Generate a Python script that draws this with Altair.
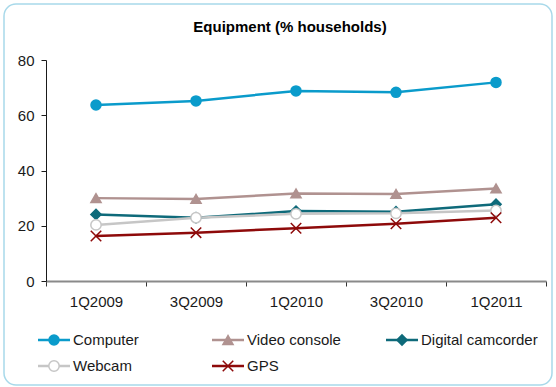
import altair as alt
import pandas as pd

quarters = ["1Q2009", "3Q2009", "1Q2010", "3Q2010", "1Q2011"]
series = ["Computer", "Video console", "Digital camcorder", "Webcam", "GPS"]
computer = [63.7, 65.2, 68.8, 68.3, 71.9]
video_console = [30.0, 29.7, 31.7, 31.5, 33.5]
digital_camcorder = [24.1, 22.9, 25.3, 25.1, 27.8]
webcam = [20.3, 22.9, 24.3, 24.5, 25.5]
gps = [16.3, 17.5, 19.1, 20.7, 22.9]

line_colors = ["#0A9BCB", "#B09290", "#0E6A7A", "#C6C6C6", "#8E0A0A"]
fill_colors = ["#0A9BCB", "#B09290", "#0E6A7A", "#FFFFFF", "transparent"]
x_path = "M-1,-1L1,1M-1,1L1,-1"
point_shapes = ["circle", "triangle-up", "diamond", "circle", x_path]
point_sizes = [100, 110, 80, 90, 70]

rows = []
for name, vals in zip(series, [computer, video_console, digital_camcorder, webcam, gps]):
    for q, v in zip(quarters, vals):
        rows.append({"Quarter": q, "Series": name, "Value": v})
df = pd.DataFrame(rows)

# legend table: 3 columns, entries in series order
legend_df = pd.DataFrame(
    [{"Series": s, "col": i % 3, "row": i // 3} for i, s in enumerate(series)]
)

FONT = "Liberation Sans"
TXT = "#1A1A1A"

color_enc = alt.Color("Series:N", sort=series,
                      scale=alt.Scale(domain=series, range=line_colors), legend=None)
fill_enc = alt.Fill("Series:N", sort=series,
                    scale=alt.Scale(domain=series, range=fill_colors), legend=None)
shape_enc = alt.Shape("Series:N", sort=series,
                      scale=alt.Scale(domain=series, range=point_shapes), legend=None)
size_enc = alt.Size("Series:N", sort=series,
                    scale=alt.Scale(domain=series, range=point_sizes), legend=None)

x_enc = alt.X(
    "Quarter:N",
    sort=quarters,
    scale=alt.Scale(type="band", paddingInner=0, paddingOuter=0),
    axis=alt.Axis(
        title=None,
        labelAngle=0,
        tickBand="extent",
        tickSize=5,
        tickColor="#333333",
        domainColor="#8A8A8A",
        domainWidth=2,
        labelPadding=8,
        labelFont=FONT,
        labelFontSize=15,
        labelColor=TXT,
        grid=False,
    ),
)
y_enc = alt.Y(
    "Value:Q",
    scale=alt.Scale(domain=[0, 80]),
    axis=alt.Axis(
        title=None,
        values=[0, 20, 40, 60, 80],
        tickSize=5,
        tickColor=TXT,
        domainColor=TXT,
        labelPadding=7,
        labelFont=FONT,
        labelFontSize=15,
        labelColor=TXT,
        grid=False,
    ),
)

lines = alt.Chart(df).mark_line(strokeWidth=2.5).encode(
    x=x_enc, y=y_enc, color=color_enc, detail="Series:N",
)

points = alt.Chart(df).mark_point(opacity=1, strokeWidth=1.5, filled=False).encode(
    x=x_enc, y=y_enc, color=color_enc, fill=fill_enc, shape=shape_enc, size=size_enc,
)

plot = alt.layer(lines, points)

# custom legend, positioned through its own scales
lx = alt.X("col:Q", scale=alt.Scale(domain=[0, 2], range=[8, 356], nice=False, zero=False), axis=None)
lx2 = alt.X2("col:Q")
ly = alt.Y("row:Q", scale=alt.Scale(domain=[0, 1], range=[280, 306], nice=False, zero=False), axis=None)

leg_line = alt.Chart(legend_df).mark_rule(strokeWidth=2.5, xOffset=-16, x2Offset=16).encode(
    x=lx, x2=lx2, y=ly, color=color_enc,
)
leg_point = alt.Chart(legend_df).mark_point(opacity=1, strokeWidth=1.5, filled=False).encode(
    x=lx, y=ly, color=color_enc, fill=fill_enc, shape=shape_enc, size=size_enc,
)
leg_text = alt.Chart(legend_df).mark_text(
    align="left", baseline="middle", dx=19, font=FONT, fontSize=15, color=TXT
).encode(x=lx, y=ly, text="Series:N")

legend_layer = alt.layer(leg_line, leg_point, leg_text)

frame = alt.Chart(alt.Data(values=[{"f": 1}])).mark_rect(
    fill="transparent", stroke="#A8D9EA", strokeWidth=1.5, cornerRadius=12
).encode(
    x=alt.value(-42), x2=alt.value(506), y=alt.value(-56), y2=alt.value(325)
)

chart = alt.layer(frame, plot, legend_layer).resolve_scale(
    x="independent", y="independent"
).properties(
    width=500,
    height=221,
    padding={"left": 46, "top": 60, "right": 10, "bottom": 106},
    autosize=alt.AutoSizeParams(type="none"),
    title=alt.Title(
        "Equipment (% households)",
        font=FONT,
        fontSize=15,
        fontWeight="bold",
        color="#000000",
        anchor="middle",
        frame="group",
        dx=-6,
        offset=0,
        dy=32,
    ),
    background="white",
).configure_view(stroke=None)

chart.save("out.html", embed_options={"renderer": "svg", "actions": False})
